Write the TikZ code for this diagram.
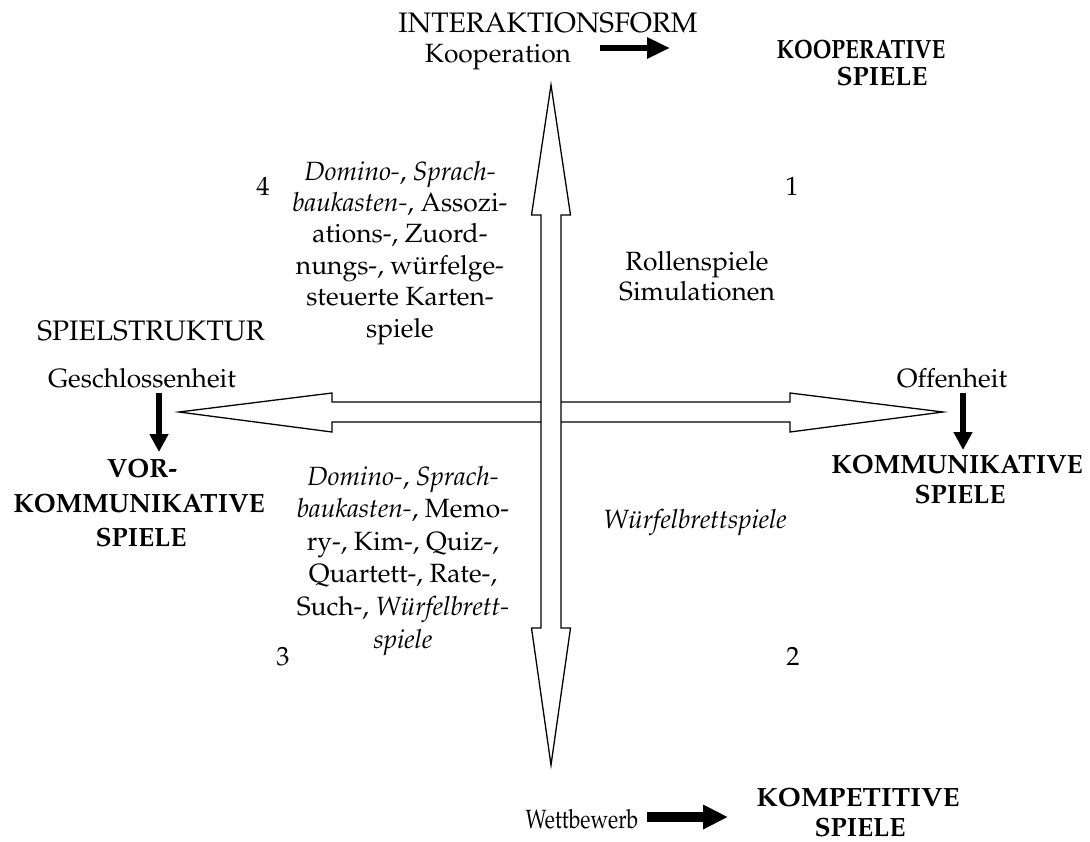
\documentclass[tikz,border=0pt]{standalone}
\usepackage[T1]{fontenc}
\usepackage{graphicx}
\renewcommand{\rmdefault}{ppl}
\usetikzlibrary{arrows.meta}
\newcommand{\linesat}[2]{{\fontsize{13.2}{#1}\selectfont
  \begin{tabular}[b]{@{}c@{}}#2\end{tabular}}}
\tikzset{
  lbl/.style={inner sep=0pt, anchor=base, font=\fontsize{13.2}{15.7}\selectfont},
  caplbl/.style={lbl, font=\fontsize{14.1}{16}\selectfont},
  hdr/.style={lbl, font=\fontsize{13.2}{15.7}\selectfont\bfseries},
  blockarrow/.style={draw, line width=0.65pt, fill=white, line join=miter},
  thinarr/.style={line width=3pt, -{Triangle[length=11.5pt,width=10pt]}},
  downarr/.style={line width=3pt, -{Triangle[length=9pt,width=9pt]}},
  fatarr/.style={line width=5pt, -{Triangle[length=12.5pt,width=11.5pt]}},
}
\begin{document}
\begin{tikzpicture}[x=0.5pt,y=-0.5pt]
\useasboundingbox (0,0) rectangle (1090,841);

% horizontal double block arrow (Spielstruktur axis)
\draw[blockarrow] (179,412) -- (332,393) -- (332,402) -- (790,402) -- (790,393)
  -- (943,412) -- (790,432) -- (790,422) -- (332,422) -- (332,432) -- cycle;
% vertical double block arrow (Interaktionsform axis), drawn on top
\draw[blockarrow] (551,85) -- (570.5,215) -- (561,215) -- (561,628) -- (570.5,628)
  -- (551,765) -- (531.5,628) -- (541,628) -- (541,215) -- (531.5,215) -- cycle;

% axis titles
\node[caplbl] (iform) at (548,32) {INTERAKTIONSFORM};
\node[lbl] (koop) at (498,62) {Kooperation};
\node[caplbl] (sstruk) at (151,340) {SPIELSTRUKTUR};
\node[lbl] (geschl) at (142,387) {Geschlossenheit};
\node[lbl] (offen) at (952,387) {Offenheit};
\node[lbl] (wettb) at (582,828) {\scalebox{0.8}[1]{Wettbewerb}};

% game categories
\node[hdr] (koopsp1) at (861,58) {\scalebox{0.85}[1]{KOOPERATIVE}};
\node[hdr] (koopsp2) at (882,85) {SPIELE};
\node[hdr] (vor1) at (142,477) {VOR-};
\node[hdr] (vor2) at (139,512) {KOMMUNIKATIVE};
\node[hdr] (vor3) at (141,546) {SPIELE};
\node[hdr] (komm1) at (957,473) {KOMMUNIKATIVE};
\node[hdr] (komm2) at (960,503) {SPIELE};
\node[hdr] (komp1) at (858,806) {\scalebox{1.05}[1]{KOMPETITIVE}};
\node[hdr] (komp2) at (860,836) {SPIELE};

% quadrant numbers
\node[lbl] (q4) at (263,195) {4};
\node[lbl] (q1) at (792,195) {1};
\node[lbl] (q3) at (283,665) {3};
\node[lbl] (q2) at (793,665) {2};

% quadrant contents (anchored at the baseline of the last line)
\node[lbl] (t4) at (400,337) {\linesat{15.7pt}{\textit{Domino-}, \textit{Sprach-}\\
  \textit{baukasten-}, Assozi-\\ ations-, Zuord-\\ nungs-, w\"urfelge-\\
  steuerte Karten-\\ spiele}};
\node[lbl] (t3) at (403,648) {\linesat{16.3pt}{\textit{Domino-}, \textit{Sprach-}\\
  \textit{baukasten-}, Memo-\\ ry-, Kim-, Quiz-,\\ Quartett-, Rate-,\\
  Such-, \textit{W\"urfelbrett-}\\ \textit{spiele}}};
\node[lbl] (t1) at (697,300) {\linesat{15pt}{Rollenspiele\\ Simulationen}};
\node[lbl] (t2) at (695,528) {\textit{W\"urfelbrettspiele}};

% black pointer arrows from the axis poles to the game types
\coordinate (kooA) at (600,48);
\coordinate (kooB) at (670,48);
\draw[thinarr] (kooA) -- (kooB);
\coordinate (gesA) at (159,393);
\coordinate (gesB) at (159,452);
\draw[downarr] (gesA) -- (gesB);
\coordinate (offA) at (963,393);
\coordinate (offB) at (963,450);
\draw[downarr] (offA) -- (offB);
\coordinate (wetA) at (647,817);
\coordinate (wetB) at (728,817);
\draw[fatarr] (wetA) -- (wetB);
\end{tikzpicture}
\end{document}
